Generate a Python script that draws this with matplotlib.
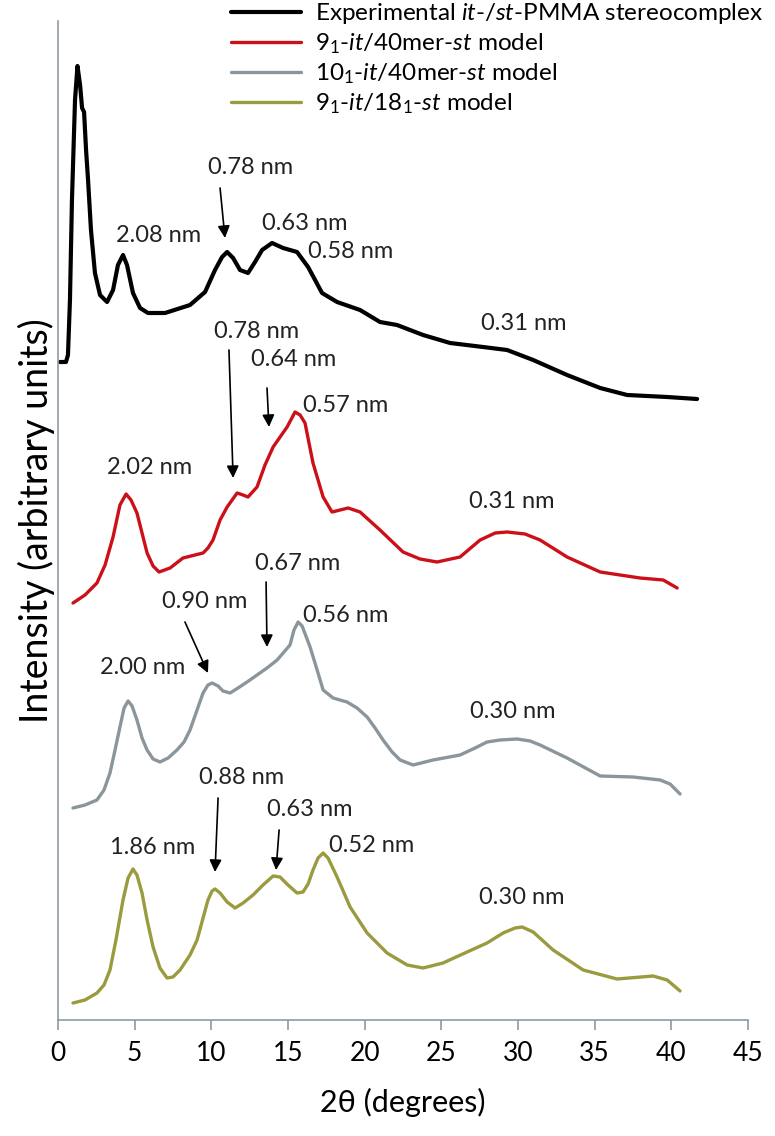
import matplotlib
matplotlib.use('Agg')
import matplotlib.pyplot as plt

plt.rcParams['font.family'] = ['Lato', 'DejaVu Sans']
plt.rcParams['mathtext.fontset'] = 'custom'
plt.rcParams['mathtext.rm'] = 'Lato'
plt.rcParams['mathtext.it'] = 'Lato:italic'

# 2-theta (degrees) and intensity (arbitrary units, curves stacked with offsets)
exp_x = [0.13, 0.52, 0.65, 0.78, 0.91, 1.11, 1.27, 1.44, 1.57, 1.70, 1.83, 1.96, 2.15, 2.41,
         2.74, 3.20, 3.59, 3.91, 4.24, 4.50, 4.89, 5.35, 5.87, 6.98, 8.61, 9.59, 10.24, 10.70,
         11.03, 11.42, 11.87, 12.39, 12.85, 13.31, 13.96, 14.68, 15.59, 16.31, 17.22, 18.20,
         19.70, 21.00, 22.11, 23.81, 25.57, 27.72, 29.29, 30.99, 33.20, 35.36, 37.12, 39.73, 41.68]
exp_y = [658, 658, 665, 720, 820, 920, 954, 935, 912, 908, 870, 840, 790, 747,
         725, 718, 730, 755, 765, 755, 727, 712, 707, 707, 715, 728, 750, 763,
         768, 762, 750, 747, 758, 770, 777, 772, 768, 753, 727, 718,
         710, 698, 695, 685, 677, 673, 670, 660, 645, 632, 625, 623, 621]

m1_x = [0.98, 1.76, 2.54, 3.07, 3.59, 4.04, 4.44, 4.76, 5.15, 5.81, 6.20, 6.59, 7.31, 8.15,
        9.46, 9.78, 10.11, 10.57, 11.03, 11.68, 12.07, 12.39, 12.98, 13.50, 14.03, 14.94,
        15.46, 15.79, 16.11, 16.63, 17.29, 17.87, 18.40, 18.92, 19.70, 21.00, 22.50, 23.61,
        24.72, 26.22, 27.53, 28.51, 29.29, 30.46, 31.44, 33.20, 35.36, 37.96, 39.47, 40.38]
m1_y = [417, 425, 437, 455, 483, 515, 526, 520, 507, 467, 454, 448, 452, 462,
        467, 472, 480, 500, 513, 527, 525, 523, 533, 555, 573, 593,
        608, 605, 597, 557, 523, 508, 510, 512, 508, 490, 468, 461,
        458, 463, 480, 487, 488, 486, 480, 463, 448, 442, 440, 432]

m2_x = [0.98, 1.76, 2.54, 3.00, 3.39, 3.72, 4.04, 4.31, 4.57, 4.83, 5.15, 5.48, 5.81, 6.20,
        6.65, 7.18, 7.76, 8.22, 8.61, 9.07, 9.46, 9.78, 10.05, 10.44, 10.76, 11.22, 11.74,
        12.33, 12.98, 13.63, 14.29, 14.74, 15.13, 15.39, 15.66, 15.92, 16.44, 16.90, 17.29,
        17.94, 18.85, 19.50, 20.16, 20.68, 21.20, 21.79, 22.31, 23.16, 24.46, 26.22, 27.20,
        27.98, 28.83, 29.94, 30.79, 31.44, 33.20, 35.36, 37.51, 39.27, 39.92, 40.57]
m2_y = [212, 215, 220, 230, 247, 270, 293, 312, 319, 314, 300, 282, 270, 261,
        258, 262, 270, 278, 290, 310, 327, 335, 337, 334, 329, 327, 332,
        338, 345, 352, 360, 368, 375, 390, 398, 394, 373, 350, 330,
        322, 318, 312, 303, 292, 280, 268, 260, 255, 260, 265, 272,
        278, 280, 281, 279, 275, 262, 244, 243, 240, 236, 226]

m3_x = [0.98, 1.76, 2.54, 3.00, 3.39, 3.78, 4.24, 4.57, 4.89, 5.15, 5.48, 5.81, 6.20, 6.65,
        7.11, 7.50, 7.96, 8.61, 9.07, 9.46, 9.78, 10.05, 10.24, 10.57, 11.03, 11.55, 12.07,
        12.72, 13.37, 14.03, 14.48, 15.00, 15.59, 15.98, 16.31, 16.63, 16.96, 17.29, 17.61,
        18.20, 19.05, 20.16, 21.46, 22.77, 23.81, 25.11, 26.68, 27.98, 29.03, 29.81, 30.27,
        30.99, 32.29, 34.25, 36.46, 38.81, 39.73, 40.57]
m3_y = [17, 20, 27, 35, 50, 80, 120, 142, 151, 145, 127, 100, 73, 52,
        42, 43, 50, 65, 80, 102, 120, 129, 131, 127, 118, 112, 117,
        125, 135, 144, 143, 135, 127, 128, 136, 150, 162, 167, 162,
        143, 113, 87, 67, 55, 52, 57, 68, 77, 87, 92, 93,
        88, 70, 50, 41, 44, 40, 29]

series_labels = [r'Experimental $\mathit{it}$-/$\mathit{st}$-PMMA stereocomplex',
                 r'$\mathregular{9_1}$-$\mathit{it}$/40mer-$\mathit{st}$ model',
                 r'$\mathregular{10_1}$-$\mathit{it}$/40mer-$\mathit{st}$ model',
                 r'$\mathregular{9_1}$-$\mathit{it}$/$\mathregular{18_1}$-$\mathit{st}$ model']
colors = ['black', '#cc1019', '#8a969c', '#9a9a3e']

# peak labels: (text, x, y)
peak_labels = [('2.08 nm', 6.59, 785), ('0.78 nm', 12.59, 852), ('0.63 nm', 16.11, 797),
               ('0.58 nm', 19.11, 769), ('0.31 nm', 30.40, 697),
               ('0.78 nm', 12.92, 688), ('0.64 nm', 15.39, 661), ('0.57 nm', 18.79, 615),
               ('2.02 nm', 6.00, 553), ('0.31 nm', 29.62, 518),
               ('0.67 nm', 15.66, 457), ('0.90 nm', 9.59, 418), ('2.00 nm', 5.54, 353),
               ('0.56 nm', 18.79, 405), ('0.30 nm', 29.68, 309),
               ('0.88 nm', 11.94, 243), ('0.63 nm', 16.44, 210), ('1.86 nm', 6.20, 173),
               ('0.52 nm', 20.48, 174), ('0.30 nm', 30.27, 122)]
# arrows: (x_start, y_start, x_tip, y_tip)
arrows = [(10.57, 832, 10.89, 782),
          (11.15, 670, 11.42, 542), (13.63, 632, 13.76, 593),
          (13.57, 438, 13.63, 373), (8.28, 398, 9.78, 347),
          (10.44, 222, 10.24, 148), (14.42, 190, 14.22, 150)]

fig = plt.figure(figsize=(7.75, 11.36), dpi=100)
ax = fig.add_axes([58 / 775, 116 / 1136, 690 / 775, 999 / 1136])

lws = [3.0, 2.4, 2.4, 2.4]
for xs, ys, c, lab, lw in zip([exp_x, m1_x, m2_x, m3_x], [exp_y, m1_y, m2_y, m3_y],
                              colors, series_labels, lws):
    ax.plot(xs, ys, color=c, lw=lw, label=lab, solid_joinstyle='round', solid_capstyle='round')

for txt, x, y in peak_labels:
    ax.text(x, y, txt, ha='center', va='center', fontsize=17, color='#222222')

for x0, y0, x1, y1 in arrows:
    ax.annotate('', xy=(x1, y1), xytext=(x0, y0),
                arrowprops=dict(arrowstyle='-|>', color='black', lw=1.2,
                                mutation_scale=18, shrinkA=0, shrinkB=0))

ax.set_xlim(0, 45)
ax.set_ylim(0, 999)
ax.set_xticks(range(0, 46, 5))
ax.set_yticks([])
for s in ['top', 'right']:
    ax.spines[s].set_visible(False)
for s in ['left', 'bottom']:
    ax.spines[s].set_color('#8c9aa2')
    ax.spines[s].set_linewidth(1.2)
ax.tick_params(axis='x', colors='#8c9aa2', length=7, width=1.2, labelsize=19,
               labelcolor='black', pad=8)
ax.set_xlabel('2θ (degrees)', fontsize=22, labelpad=16)
ax.set_ylabel('Intensity (arbitrary units)', fontsize=27, labelpad=2)

fig.legend(loc='upper left', bbox_to_anchor=(0.298, 0.999), frameon=False, fontsize=17.5,
           handlelength=2.9, handletextpad=0.55, labelspacing=0.22, borderpad=0,
           borderaxespad=0)

fig.savefig('out.png', dpi=100)
